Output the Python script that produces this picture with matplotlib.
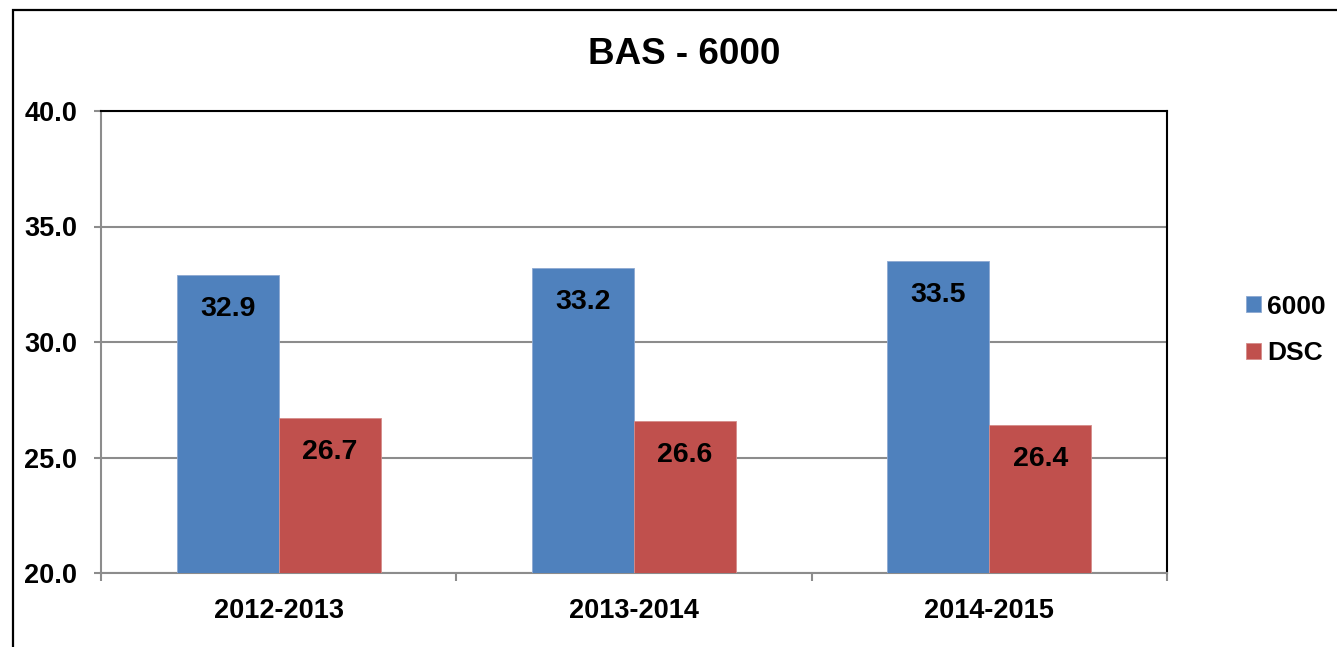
import matplotlib
matplotlib.use("Agg")
import matplotlib.pyplot as plt
from matplotlib.patches import Rectangle
import numpy as np

plt.rcParams['font.family'] = ['Liberation Sans', 'DejaVu Sans']
plt.rcParams['font.weight'] = 'bold'

categories = ["2012-2013", "2013-2014", "2014-2015"]
series_names = ["6000", "DSC"]
values_6000 = [32.9, 33.2, 33.5]
values_dsc = [26.7, 26.6, 26.4]
title = "BAS - 6000"

blue = "#4F81BD"
red = "#C0504D"
grid_gray = "#8C8C8C"

W, H = 1337, 647
fig = plt.figure(figsize=(W / 100, H / 100), dpi=100)
ax = fig.add_axes([101 / W, 1 - 573 / H, (1167 - 101) / W, (573 - 111) / H])

x = np.arange(len(categories))
bw = 0.287
b1 = ax.bar(x - bw / 2, values_6000, bw, color=blue, label=series_names[0], zorder=3,
            edgecolor="#8EA9D2", linewidth=0.6)
b2 = ax.bar(x + bw / 2, values_dsc, bw, color=red, label=series_names[1], zorder=3,
            edgecolor="#D58C8A", linewidth=0.6)

for bars, vals in ((b1, values_6000), (b2, values_dsc)):
    for rect, v in zip(bars, vals):
        ax.annotate(f"{v:.1f}", xy=(rect.get_x() + rect.get_width() / 2, v),
                    xytext=(0, -34), textcoords="offset pixels",
                    ha="center", va="center", fontsize=20.5, fontweight="bold",
                    color="black", zorder=4)

ax.set_ylim(20, 40)
ax.set_xlim(-0.5, len(categories) - 0.5)
yt = np.arange(20, 40.1, 5)
ax.set_yticks(yt)
ax.set_yticklabels([f"{t:.1f}" for t in yt])
ax.yaxis.grid(True, color=grid_gray, linewidth=1.5, zorder=0)
ax.set_axisbelow(True)

ax.set_xticks(x)
ax.set_xticklabels(categories)
ax.set_xticks(np.arange(-0.5, len(categories)), minor=True)
ax.tick_params(axis="x", which="major", length=0, pad=18, labelsize=19.5)
ax.tick_params(axis="x", which="minor", length=6, width=1.5, color=grid_gray, direction="out")
ax.tick_params(axis="y", which="major", length=5, width=1.5, color=grid_gray,
               pad=12, labelsize=19.5, direction="out")
for lab in ax.get_xticklabels() + ax.get_yticklabels():
    lab.set_fontweight("bold")

ax.spines["left"].set_color(grid_gray)
ax.spines["bottom"].set_color(grid_gray)
ax.spines["left"].set_linewidth(1.5)
ax.spines["bottom"].set_linewidth(1.5)
ax.spines["top"].set_color("black")
ax.spines["right"].set_color("black")
ax.spines["top"].set_linewidth(1.5)
ax.spines["right"].set_linewidth(1.5)

fig.text(684 / W, 1 - 64 / H, title, ha="center", va="baseline",
         fontsize=26.5, fontweight="bold")

leg = ax.legend(loc="center left", bbox_to_anchor=(1233 / W, 1 - 330 / H),
                bbox_transform=fig.transFigure, frameon=False,
                fontsize=19, handlelength=0.55, handleheight=0.55,
                handletextpad=0.25, labelspacing=0.85, borderpad=0)
for t in leg.get_texts():
    t.set_fontweight("bold")

border = Rectangle((13 / W, -0.2), 1.5, 1.2 - 10 / H, transform=fig.transFigure,
                   fill=False, edgecolor="black", linewidth=1.6, clip_on=False)
fig.patches.append(border)

fig.savefig("out.png", dpi=100)
